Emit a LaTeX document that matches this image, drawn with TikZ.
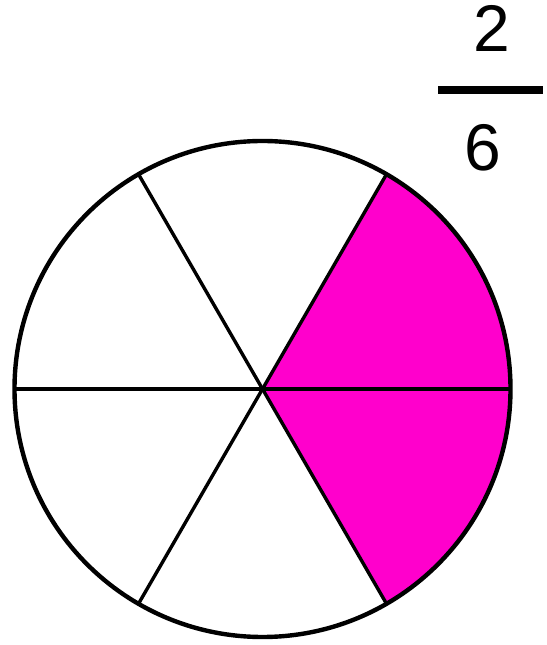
\documentclass[tikz,border=0pt]{standalone}
\usepackage{fontspec}
\setmainfont{Liberation Sans}
\definecolor{pie}{RGB}{255,0,204}
\begin{document}
\begin{tikzpicture}[x=1pt,y=1pt,
  rim/.style={line width=4.4pt},
  spoke/.style={line width=3.4pt},
  digit/.style={font=\fontsize{66}{66}\selectfont, inner sep=0pt, anchor=base}]
\useasboundingbox (0,0) rectangle (546,645);
\coordinate (c) at (262.5,256);
\fill[pie] (c) -- ++(-60:248) arc[start angle=-60,end angle=60,radius=248] -- cycle;
\draw[spoke] (c) ++(0:248) -- ++(180:496);
\draw[spoke] (c) ++(60:248) -- ++(240:496);
\draw[spoke] (c) ++(120:248) -- ++(300:496);
\draw[rim] (c) circle[radius=248];
\node[digit] (num) at (492,593) {2};
\draw[line width=8pt] (438,555) -- (543,555);
\node[digit] (den) at (483,474) {6};
\end{tikzpicture}
\end{document}
